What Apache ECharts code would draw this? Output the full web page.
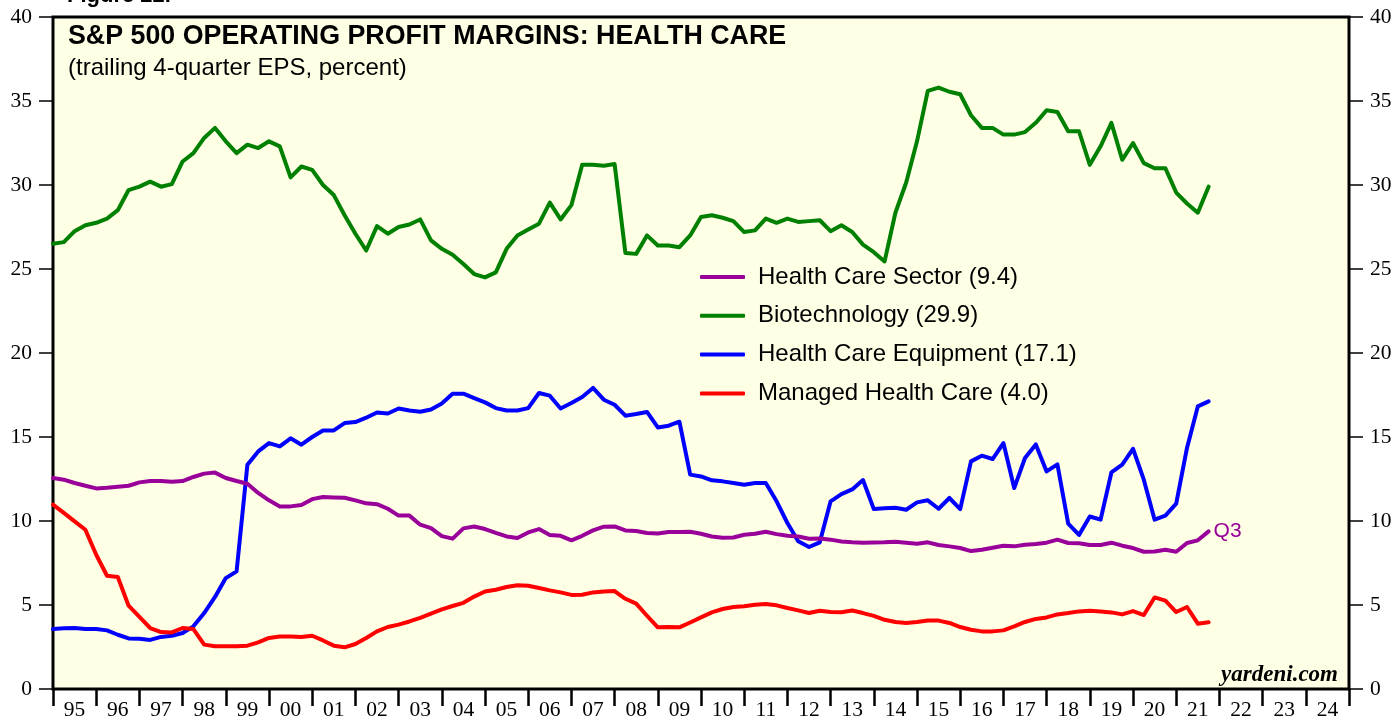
<!DOCTYPE html>
<html><head><meta charset="utf-8">
<script src="https://cdn.jsdelivr.net/npm/echarts@6/dist/echarts.min.js"></script>
<style>html,body{margin:0;padding:0;background:#fff}#c{width:1395px;height:717px}</style>
</head><body><div id="c"></div>
<script>
// ---- data (quarterly, first point = Q4 1994 plotted at the 1995 year boundary, last = Q3 2021) ----
const yearLabels = ['95','96','97','98','99','00','01','02','03','04','05','06','07','08','09','10','11','12','13','14','15','16','17','18','19','20','21','22','23','24'];
const firstPointYear = 1995;
const quartersPerYear = 4;
const lastQuarterLabel = 'Q3';
const yTickValues = [0, 5, 10, 15, 20, 25, 30, 35, 40];

const healthCareSector = [12.56,12.46,12.26,12.1,11.94,11.98,12.04,12.1,12.3,12.38,12.38,12.34,12.38,12.62,12.82,12.88,12.56,12.38,12.22,11.67,11.23,10.87,10.87,10.95,11.3,11.43,11.4,11.38,11.23,11.05,11.0,10.73,10.32,10.32,9.78,9.58,9.1,8.95,9.56,9.67,9.52,9.29,9.08,8.99,9.32,9.52,9.17,9.12,8.85,9.12,9.44,9.66,9.68,9.44,9.4,9.29,9.26,9.35,9.35,9.36,9.24,9.08,9.0,9.02,9.18,9.24,9.36,9.22,9.12,9.08,8.94,8.96,8.89,8.78,8.73,8.7,8.72,8.73,8.77,8.71,8.65,8.73,8.57,8.49,8.39,8.21,8.29,8.41,8.53,8.49,8.59,8.63,8.71,8.89,8.69,8.67,8.57,8.57,8.71,8.53,8.39,8.17,8.19,8.29,8.17,8.69,8.85,9.38];
const biotechnology = [26.5,26.6,27.25,27.6,27.75,28.0,28.5,29.7,29.9,30.2,29.9,30.05,31.4,31.9,32.8,33.4,32.6,31.9,32.4,32.2,32.6,32.3,30.45,31.1,30.9,30.0,29.4,28.2,27.1,26.1,27.55,27.1,27.5,27.65,27.95,26.7,26.2,25.85,25.3,24.7,24.5,24.8,26.2,27.0,27.35,27.7,28.95,27.95,28.8,31.2,31.2,31.15,31.25,25.95,25.9,27.0,26.4,26.4,26.3,27.0,28.1,28.2,28.05,27.85,27.2,27.3,28.0,27.75,28.0,27.8,27.85,27.9,27.25,27.6,27.2,26.45,26.0,25.45,28.35,30.15,32.6,35.6,35.8,35.55,35.4,34.15,33.4,33.4,33.0,33.0,33.15,33.7,34.45,34.35,33.2,33.2,31.2,32.3,33.7,31.5,32.5,31.3,31.0,31.0,29.55,28.9,28.35,29.9];
const healthCareEquipment = [3.57,3.61,3.63,3.57,3.57,3.49,3.23,3.01,2.99,2.92,3.1,3.17,3.33,3.73,4.52,5.48,6.6,7.0,13.35,14.14,14.64,14.44,14.92,14.54,15.0,15.39,15.39,15.83,15.89,16.15,16.46,16.4,16.7,16.58,16.5,16.64,17.0,17.58,17.58,17.32,17.06,16.72,16.58,16.58,16.72,17.62,17.46,16.7,17.02,17.38,17.92,17.22,16.92,16.27,16.37,16.49,15.57,15.67,15.91,12.76,12.65,12.42,12.36,12.26,12.16,12.26,12.26,11.17,9.88,8.79,8.45,8.73,11.17,11.6,11.88,12.44,10.71,10.76,10.79,10.67,11.11,11.23,10.73,11.37,10.71,13.55,13.89,13.69,14.64,11.96,13.75,14.56,12.95,13.37,9.84,9.17,10.27,10.08,12.89,13.35,14.3,12.46,10.08,10.32,11.03,14.35,16.82,17.12];
const managedHealthCare = [10.97,10.48,9.98,9.48,7.99,6.74,6.67,4.96,4.29,3.63,3.39,3.37,3.63,3.57,2.64,2.54,2.54,2.54,2.58,2.78,3.04,3.13,3.13,3.09,3.17,2.89,2.58,2.48,2.68,3.04,3.43,3.69,3.83,4.02,4.23,4.48,4.74,4.94,5.13,5.5,5.8,5.91,6.07,6.17,6.15,6.01,5.87,5.75,5.6,5.61,5.75,5.81,5.83,5.37,5.08,4.36,3.67,3.69,3.67,3.96,4.26,4.56,4.76,4.88,4.92,5.02,5.06,4.98,4.82,4.68,4.52,4.66,4.58,4.57,4.67,4.52,4.35,4.12,3.99,3.93,3.99,4.08,4.07,3.93,3.69,3.53,3.43,3.43,3.49,3.73,3.99,4.17,4.26,4.44,4.52,4.62,4.66,4.62,4.56,4.44,4.64,4.4,5.45,5.26,4.58,4.88,3.89,3.97];

// ---- build ----
const toPairs = arr => arr.map((v, i) => [firstPointYear + i / quartersPerYear, v]);
const withLast = (name, arr) => name + ' (' + arr[arr.length - 1].toFixed(1) + ')';
const names = {
  sector: withLast('Health Care Sector', healthCareSector),
  biotech: withLast('Biotechnology', biotechnology),
  equip: withLast('Health Care Equipment', healthCareEquipment),
  managed: withLast('Managed Health Care', managedHealthCare)
};
const COL = { sector: '#990099', biotech: '#008000', equip: '#0000ff', managed: '#ff0000' };
const SANS = '"Liberation Sans", Arial, sans-serif';
const SERIF = '"Liberation Serif", "Times New Roman", serif';

const chart = echarts.init(document.getElementById('c'), null, { renderer: 'canvas' });
const yAxisCommon = {
  type: 'value', min: yTickValues[0], max: yTickValues[yTickValues.length - 1], interval: yTickValues[1] - yTickValues[0],
  axisLine: { show: false },
  axisTick: { show: true, inside: false, length: 14, lineStyle: { color: '#000', width: 1.5 } },
  axisLabel: { fontFamily: SERIF, fontSize: 21.5, color: '#000', margin: 21 },
  splitLine: { show: false }
};
const lineSeries = (key, arr, z) => ({
  name: names[key], type: 'line', xAxisIndex: 0, yAxisIndex: 0,
  data: toPairs(arr), showSymbol: false, symbol: 'none', z: z,
  lineStyle: { color: COL[key], width: 4, join: 'round', cap: 'round' },
  itemStyle: { color: COL[key] },
  animation: false
});
const sectorSeries = lineSeries('sector', healthCareSector, 6);
sectorSeries.endLabel = { show: true, formatter: lastQuarterLabel, color: COL.sector, fontFamily: SANS, fontSize: 21, distance: 5 };

chart.setOption({
  animation: false,
  backgroundColor: '#ffffff',
  title: {
    text: 'S&P 500 OPERATING PROFIT MARGINS: HEALTH CARE',
    subtext: '(trailing 4-quarter EPS, percent)',
    left: 68, top: 24, padding: 0, itemGap: 5,
    textStyle: { fontFamily: SANS, fontSize: 26.8, fontWeight: 'bold', color: '#000', lineHeight: 26 },
    subtextStyle: { fontFamily: SANS, fontSize: 24, color: '#000', lineHeight: 24 }
  },
  legend: {
    orient: 'vertical', left: 700, top: 265, padding: 0, itemGap: 14.8,
    itemWidth: 45, itemHeight: 4, icon: 'roundRect',
    data: [names.sector, names.biotech, names.equip, names.managed],
    textStyle: { fontFamily: SANS, fontSize: 24, color: '#000', lineHeight: 24, padding: [0, 0, 0, 8] },
    selectedMode: false
  },
  grid: {
    left: 53, right: 46, top: 17, bottom: 28, show: true,
    backgroundColor: '#ffffe6', borderColor: '#000', borderWidth: 3,
    containLabel: false, outerBoundsMode: 'none'
  },
  xAxis: [
    { type: 'value', min: firstPointYear, max: firstPointYear + yearLabels.length, interval: 1,
      axisLine: { show: false }, axisLabel: { show: false }, splitLine: { show: false },
      axisTick: { show: true, inside: false, length: 17, lineStyle: { color: '#000', width: 2.5 } } },
    { type: 'category', data: yearLabels, boundaryGap: true, position: 'bottom',
      axisLine: { show: false }, axisTick: { show: false }, splitLine: { show: false },
      axisLabel: { fontFamily: SERIF, fontSize: 21.5, color: '#000', margin: 11, lineHeight: 21, interval: 0 } }
  ],
  yAxis: [
    Object.assign({ position: 'left' }, yAxisCommon),
    Object.assign({ position: 'right' }, yAxisCommon)
  ],
  series: [
    lineSeries('biotech', biotechnology, 3),
    lineSeries('equip', healthCareEquipment, 4),
    lineSeries('managed', managedHealthCare, 5),
    sectorSeries
  ],
  graphic: [
    { type: 'text', z: 100, style: { x: 67, y: -4, text: 'Figure 22.', font: 'bold 22px ' + SANS, fill: '#000', textAlign: 'left', textVerticalAlign: 'middle' } },
    { type: 'text', z: 100, style: { x: 1338, y: 675, text: 'yardeni.com', font: 'italic bold 23px ' + SERIF, fill: '#000', textAlign: 'right', textVerticalAlign: 'middle' } }
  ]
});
</script>
</body></html>
